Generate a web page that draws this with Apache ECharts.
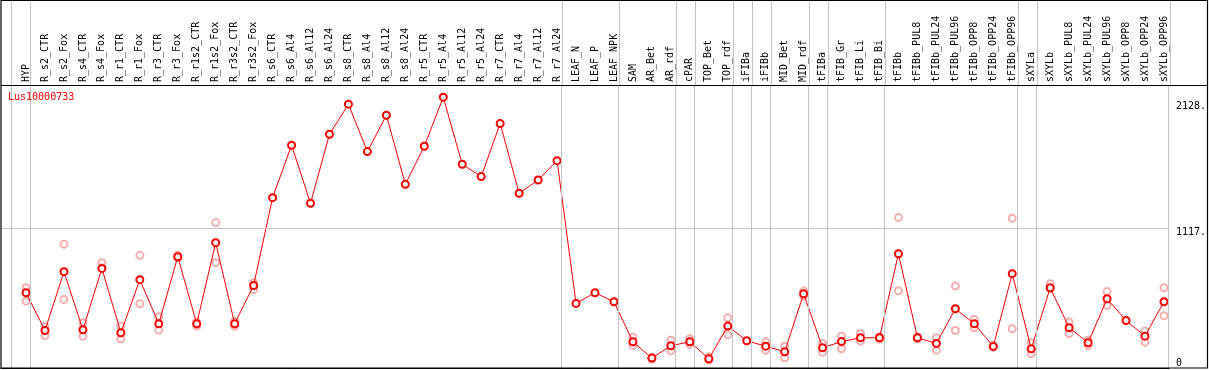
<!DOCTYPE html>
<html>
<head>
<meta charset="utf-8">
<script src="https://cdn.jsdelivr.net/npm/echarts@6/dist/echarts.min.js"></script>
<style>
html,body{margin:0;padding:0;background:#fff;}
#chart{width:1209px;height:370px;}
</style>
</head>
<body>
<div id="chart"></div>
<script>
const geneName = 'Lus10000733';
const categories = ['HYP','R_s2_CTR','R_s2_Fox','R_s4_CTR','R_s4_Fox','R_r1_CTR','R_r1_Fox','R_r3_CTR','R_r3_Fox','R_r1s2_CTR','R_r1s2_Fox','R_r3s2_CTR','R_r3s2_Fox','R_s6_CTR','R_s6_Al4','R_s6_Al12','R_s6_Al24','R_s8_CTR','R_s8_Al4','R_s8_Al12','R_s8_Al24','R_r5_CTR','R_r5_Al4','R_r5_Al12','R_r5_Al24','R_r7_CTR','R_r7_Al4','R_r7_Al12','R_r7_Al24','LEAF_N','LEAF_P','LEAF_NPK','SAM','AR_Bet','AR_rdf','cPAR','TOP_Bet','TOP_rdf','iFIBa','iFIBb','MID_Bet','MID_rdf','tFIBa','tFIB_Gr','tFIB_Li','tFIB_Bi','tFIBb','tFIBb_PUL8','tFIBb_PUL24','tFIBb_PUL96','tFIBb_OPP8','tFIBb_OPP24','tFIBb_OPP96','sXYLa','sXYLb','sXYLb_PUL8','sXYLb_PUL24','sXYLb_PUL96','sXYLb_OPP8','sXYLb_OPP24','sXYLb_OPP96'];
const meanValues = [600,299,768,305,794,281,704,353,887,353,999,353,658,
  1358,1776,1313,1863,2103,1725,2015,1464,1768,2159,1624,1526,1949,1393,1499,1653,
  515,600,528,
  209,79,177,209,73,334,217,174,129,592,161,211,241,241,
  911,241,196,472,353,172,752,153,640,321,201,552,379,254,528];
const replicateHigh = [640,329,986,361,840,334,898,409,898,366,1159,373,680,
  null,null,null,null,null,null,null,null,null,null,null,null,null,null,null,null,
  null,null,null,
  246,85,222,233,89,400,null,209,174,613,196,254,275,250,
  1199,250,241,653,387,180,1193,201,672,366,222,610,null,294,640];
const replicateLow = [533,259,547,254,800,233,512,302,879,334,840,334,626,
  null,null,null,null,null,null,null,null,null,null,null,null,null,null,null,null,
  null,null,null,
  180,70,137,188,62,265,null,142,81,573,126,153,214,230,
  616,232,142,299,321,165,313,116,632,275,180,499,null,206,417];
const groupEndsAfter = [-1,0,28,31,34,35,37,38,39,41,42,45,52,53,60];
const yTickLabels = [1117, 2128];
const yZeroLabel = [0];

const X_MIN = -1.32, X_MAX = 60.26, Y_MAX = 2256;
const FONT = 'DejaVu Sans Mono';
const sepLines = groupEndsAfter.map(k => ({xAxis: k + 0.24}));
const sepStyle = {color:'#c4c4c4', width:1, type:'solid'};

const meanData = meanValues.map((v,i)=>[i,v]);
const repData = [];
replicateHigh.forEach((v,i)=>{ if(v!=null) repData.push([i,v]); });
replicateLow.forEach((v,i)=>{ if(v!=null) repData.push([i,v]); });

const chart = echarts.init(document.getElementById('chart'), null, {renderer:'canvas'});
chart.setOption({
  animation:false,
  backgroundColor:'#fff',
  title:{text:geneName,left:8,top:92,padding:0,textStyle:{color:'#ff0000',fontFamily:FONT,fontSize:10,fontWeight:'normal'}},
  graphic:[
    {type:'rect',shape:{x:1,y:0.5,width:1206.5,height:367.5},style:{fill:null,stroke:'#000',lineWidth:1.2},silent:true,z:100},
    {type:'line',shape:{x1:1,y1:85.5,x2:1208,y2:85.5},style:{stroke:'#000',lineWidth:1.2},silent:true,z:100}
  ],
  grid:[
    {left:1,right:38,top:0,height:85},
    {left:1,right:38,top:85,bottom:2}
  ],
  xAxis:[
    {gridIndex:0,type:'value',min:X_MIN,max:X_MAX,show:false},
    {gridIndex:1,type:'value',min:X_MIN,max:X_MAX,position:'top',
     axisLine:{show:true,lineStyle:{color:'#000',width:1}},axisTick:{show:false},splitLine:{show:false},
     axisLabel:{show:true,rotate:90,margin:3,color:'#000',fontFamily:FONT,fontSize:10,
       customValues:categories.map((c,i)=>i),
       formatter:v=>categories[Math.round(v)]||''}}
  ],
  yAxis:[
    {gridIndex:0,type:'value',min:0,max:1,show:false},
    {gridIndex:1,type:'value',min:0,max:Y_MAX,position:'right',
     axisLine:{show:false},axisTick:{show:false},splitLine:{show:false},
     axisLabel:{show:true,margin:7,verticalAlign:'top',color:'#000',fontFamily:FONT,fontSize:10,
       customValues:yTickLabels,formatter:v=>v+'.'}},
    {gridIndex:1,type:'value',min:0,max:Y_MAX,position:'right',
     axisLine:{show:false},axisTick:{show:false},splitLine:{show:false},
     axisLabel:{show:true,margin:7,verticalAlign:'bottom',color:'#000',fontFamily:FONT,fontSize:10,
       customValues:yZeroLabel,formatter:v=>String(v)}}
  ],
  series:[
    {type:'scatter',xAxisIndex:0,yAxisIndex:0,data:[],silent:true,
     markLine:{silent:true,symbol:'none',label:{show:false},lineStyle:sepStyle,data:sepLines,animation:false}},
    {type:'scatter',xAxisIndex:1,yAxisIndex:1,data:repData,symbol:'emptyCircle',symbolSize:7,z:2,
     itemStyle:{color:'#f09a9a',borderColor:'#f09a9a',borderWidth:1.3},
     markLine:{silent:true,symbol:'none',label:{show:false},lineStyle:sepStyle,
       data:sepLines.concat(yTickLabels.slice(0,1).map(v=>({yAxis:v}))),animation:false}},
    {type:'line',xAxisIndex:1,yAxisIndex:1,data:meanData,symbol:'emptyCircle',symbolSize:7,z:3,
     lineStyle:{color:'#ff0000',width:1},
     itemStyle:{color:'#ff0000',borderColor:'#ff0000',borderWidth:1.5}}
  ]
});
</script>
</body>
</html>
